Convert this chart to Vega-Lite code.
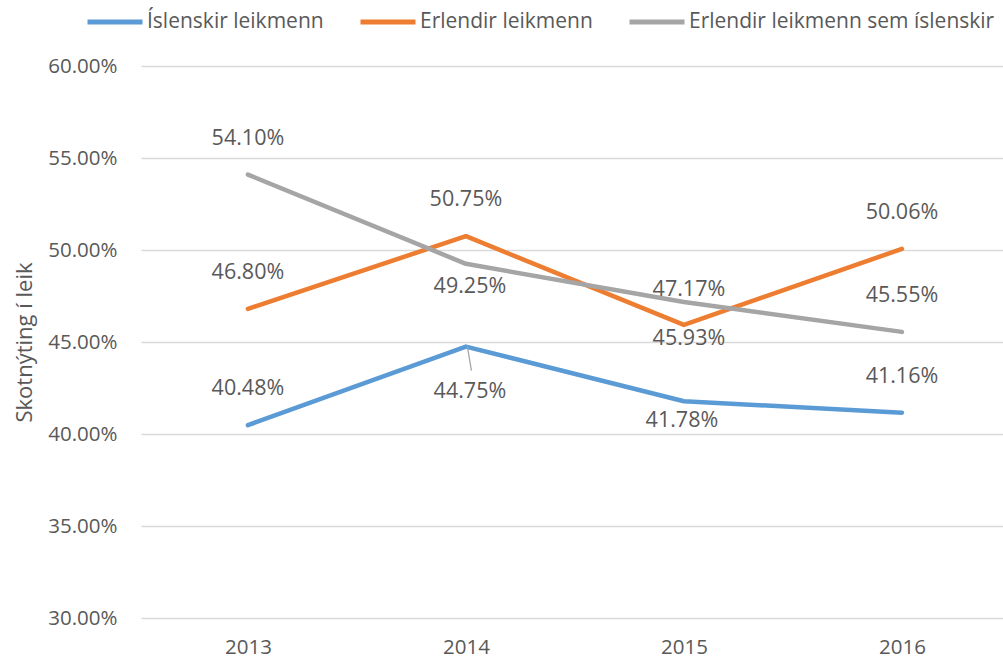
{
  "$schema": "https://vega.github.io/schema/vega-lite/v6.json",
  "width": 862,
  "height": 552,
  "autosize": "none",
  "padding": {"left": 141, "top": 66, "right": 0, "bottom": 44},
  "background": "white",
  "config": {
    "view": {"stroke": null},
    "font": "Open Sans",
    "text": {"font": "Open Sans", "fontSize": 21.5, "fill": "#595959"}
  },
  "data": {
    "values": [
      {"year": "2013", "series": "Íslenskir leikmenn", "value": 0.4048},
      {"year": "2014", "series": "Íslenskir leikmenn", "value": 0.4475},
      {"year": "2015", "series": "Íslenskir leikmenn", "value": 0.4178},
      {"year": "2016", "series": "Íslenskir leikmenn", "value": 0.4116},
      {"year": "2013", "series": "Erlendir leikmenn", "value": 0.468},
      {"year": "2014", "series": "Erlendir leikmenn", "value": 0.5075},
      {"year": "2015", "series": "Erlendir leikmenn", "value": 0.4593},
      {"year": "2016", "series": "Erlendir leikmenn", "value": 0.5006},
      {"year": "2013", "series": "Erlendir leikmenn sem íslenskir", "value": 0.541},
      {"year": "2014", "series": "Erlendir leikmenn sem íslenskir", "value": 0.4925},
      {"year": "2015", "series": "Erlendir leikmenn sem íslenskir", "value": 0.4717},
      {"year": "2016", "series": "Erlendir leikmenn sem íslenskir", "value": 0.4555}
    ]
  },
  "encoding": {
    "x": {
      "field": "year", "type": "ordinal",
      "scale": {"type": "point", "padding": 0.477, "align": 0.514},
      "axis": {"title": null, "domain": false, "ticks": false, "grid": false, "labelAngle": 0,
               "labelFont": "Open Sans", "labelFontSize": 20.5, "labelColor": "#595959", "labelPadding": 19}
    },
    "y": {
      "field": "value", "type": "quantitative",
      "scale": {"domain": [0.3, 0.6], "nice": false, "zero": false},
      "axis": {"title": "Skotnýting í leik", "values": [0.3, 0.35, 0.4, 0.45, 0.5, 0.55, 0.6], "format": ".2%",
               "domain": false, "ticks": false, "grid": true, "gridColor": "#D9D9D9", "gridWidth": 1.3,
               "labelFont": "Open Sans", "labelFontSize": 20.5, "labelColor": "#595959", "labelPadding": 24,
               "titleFont": "Open Sans", "titleFontSize": 22, "titleFontWeight": "normal", "titleColor": "#595959", "titlePadding": 11}
    }
  },
  "layer": [
    {
      "mark": {"type": "line", "strokeWidth": 4.5, "strokeJoin": "round", "strokeCap": "round"},
      "encoding": {
        "color": {
          "field": "series", "type": "nominal",
          "scale": {"domain": ["Íslenskir leikmenn", "Erlendir leikmenn", "Erlendir leikmenn sem íslenskir"],
                    "range": ["#5B9BD5", "#ED7D31", "#A5A5A5"]},
          "legend": {"title": null, "orient": "none", "direction": "horizontal", "legendX": -56, "legendY": -74,
                     "symbolType": "stroke", "symbolSize": 3025, "symbolStrokeWidth": 5,
                     "labelFont": "Open Sans", "labelFontSize": 21, "labelColor": "#595959", "labelOffset": 2,
                     "labelLimit": 500, "columnPadding": 26}
        }
      }
    },
    {
      "transform": [{"filter": "datum.series == 'Íslenskir leikmenn' && datum.year == '2014'"}],
      "mark": {"type": "rule", "color": "#A6A6A6", "strokeWidth": 1.3, "xOffset": 1.5, "x2Offset": 5.5, "yOffset": 0, "y2Offset": 24},
      "encoding": {"x2": {"field": "year"}, "y2": {"field": "value"}}
    },
    {
      "transform": [{"filter": "!((datum.year == '2014' && datum.series != 'Erlendir leikmenn') || (datum.year == '2015'))"}],
      "mark": {"type": "text", "dy": -36, "baseline": "middle"},
      "encoding": {"text": {"field": "value", "type": "quantitative", "format": ".2%"}}
    },
    {
      "transform": [{"filter": "datum.series == 'Íslenskir leikmenn' && datum.year == '2014'"}],
      "mark": {"type": "text", "dy": 45, "dx": 4, "baseline": "middle"},
      "encoding": {"text": {"field": "value", "type": "quantitative", "format": ".2%"}}
    },
    {
      "transform": [{"filter": "datum.series == 'Íslenskir leikmenn' && datum.year == '2015'"}],
      "mark": {"type": "text", "dy": 20, "dx": -2, "baseline": "middle"},
      "encoding": {"text": {"field": "value", "type": "quantitative", "format": ".2%"}}
    },
    {
      "transform": [{"filter": "datum.series == 'Erlendir leikmenn' && datum.year == '2015'"}],
      "mark": {"type": "text", "dy": 14, "dx": 5, "baseline": "middle"},
      "encoding": {"text": {"field": "value", "type": "quantitative", "format": ".2%"}}
    },
    {
      "transform": [{"filter": "datum.series == 'Erlendir leikmenn sem íslenskir' && datum.year == '2014'"}],
      "mark": {"type": "text", "dy": 23, "dx": 4, "baseline": "middle"},
      "encoding": {"text": {"field": "value", "type": "quantitative", "format": ".2%"}}
    },
    {
      "transform": [{"filter": "datum.series == 'Erlendir leikmenn sem íslenskir' && datum.year == '2015'"}],
      "mark": {"type": "text", "dy": -12, "dx": 5, "baseline": "middle"},
      "encoding": {"text": {"field": "value", "type": "quantitative", "format": ".2%"}}
    }
  ]
}
